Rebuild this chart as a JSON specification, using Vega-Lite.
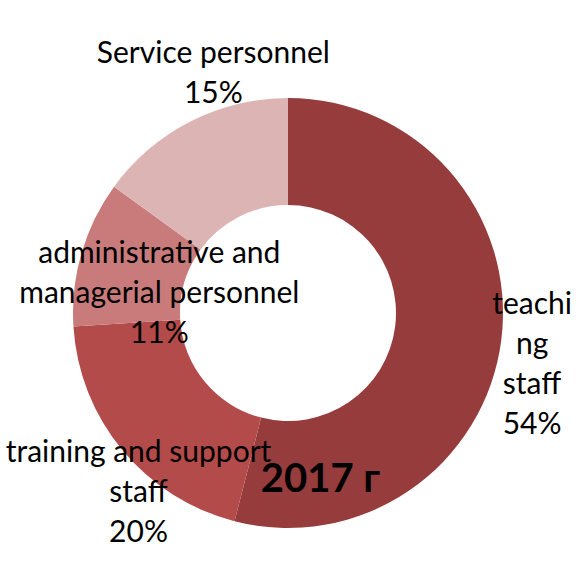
{
  "$schema": "https://vega.github.io/schema/vega-lite/v6.json",
  "width": 576,
  "height": 528,
  "autosize": {"type": "none"},
  "padding": {"left": 0, "top": 49, "right": 7, "bottom": 0},
  "background": "white",
  "view": {"stroke": null},
  "config": {"text": {"font": "Lato", "fontSize": 30, "lineHeight": 40, "lineBreak": "\n", "align": "center", "baseline": "alphabetic", "color": "#000000"}},
  "data": {"values": [
    {"category": "teaching staff", "share": 54, "order": 1, "label": "teachi\nng\nstaff\n54%"},
    {"category": "training and support staff", "share": 20, "order": 2, "label": "training and support\nstaff\n20%"},
    {"category": "administrative and managerial personnel", "share": 11, "order": 3, "label": "administrative and\nmanagerial personnel\n11%"},
    {"category": "Service personnel", "share": 15, "order": 4, "label": "Service personnel\n15%"}
  ]},
  "layer": [
    {
      "mark": {"type": "arc", "innerRadius": 108, "outerRadius": 215},
      "encoding": {
        "theta": {"field": "share", "type": "quantitative", "stack": true},
        "order": {"field": "order", "type": "quantitative"},
        "color": {"field": "category", "type": "nominal", "legend": null,
          "scale": {"domain": ["teaching staff", "training and support staff", "administrative and managerial personnel", "Service personnel"],
                    "range": ["#963C3C", "#B34B4A", "#C97B7B", "#DDB4B4"]}}
      }
    },
    {
      "mark": {"type": "text", "radius": 246, "dy": -30},
      "encoding": {
        "theta": {"field": "share", "type": "quantitative", "stack": true},
        "order": {"field": "order", "type": "quantitative"},
        "detail": {"field": "category", "type": "nominal"},
        "text": {"condition": {"test": "datum.category === 'teaching staff'", "field": "label"}, "value": ""}
      }
    },
    {
      "mark": {"type": "text", "radius": 194, "dy": 25},
      "encoding": {
        "theta": {"field": "share", "type": "quantitative", "stack": true},
        "order": {"field": "order", "type": "quantitative"},
        "detail": {"field": "category", "type": "nominal"},
        "text": {"condition": {"test": "datum.category === 'training and support staff'", "field": "label"}, "value": ""}
      }
    },
    {
      "mark": {"type": "text", "radius": 134, "dy": -13},
      "encoding": {
        "theta": {"field": "share", "type": "quantitative", "stack": true},
        "order": {"field": "order", "type": "quantitative"},
        "detail": {"field": "category", "type": "nominal"},
        "text": {"condition": {"test": "datum.category === 'administrative and managerial personnel'", "field": "label"}, "value": ""}
      }
    },
    {
      "mark": {"type": "text", "radius": 257, "dx": 42, "dy": -21},
      "encoding": {
        "theta": {"field": "share", "type": "quantitative", "stack": true},
        "order": {"field": "order", "type": "quantitative"},
        "detail": {"field": "category", "type": "nominal"},
        "text": {"condition": {"test": "datum.category === 'Service personnel'", "field": "label"}, "value": ""}
      }
    },
    {
      "data": {"values": [{"year": "2017 г"}]},
      "mark": {"type": "text", "fontSize": 40, "fontWeight": "bold", "dx": 32.5, "dy": 179},
      "encoding": {"text": {"field": "year", "type": "nominal"}}
    }
  ]
}
